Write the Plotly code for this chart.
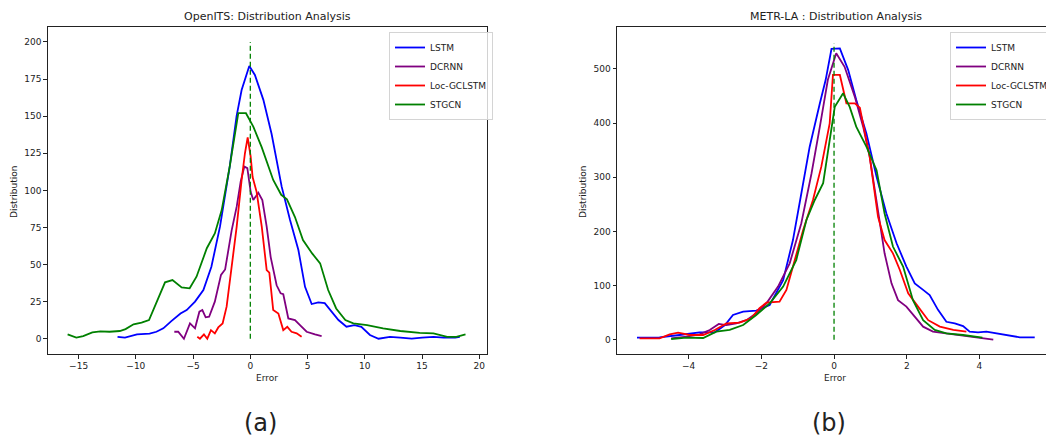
import plotly.graph_objects as go

# ---- (a) OpenITS ----
a_lstm_x = [-11.6, -10.95, -9.9, -8.8, -8.2, -7.6, -6.9, -6.1, -5.56, -4.83, -4.1, -3.4, -2.65, -1.8, -1.2, -0.76,
            -0.09, 0.4, 1.14, 1.86, 2.74, 3.47, 4.2, 4.78, 5.36, 5.94, 6.5, 7.25, 7.7, 8.4, 9.1, 9.7, 10.45, 11.2,
            12.2, 13.1, 14.1, 15.0, 16.0, 16.9, 17.9, 18.3]
a_lstm_y = [1.3, 0.7, 2.9, 3.4, 4.7, 7, 11.9, 17, 19.3, 25, 32.8, 48.5, 75.5, 116, 150, 167.6,
            183.8, 177.8, 161, 138, 102.5, 80, 59.8, 35, 23.4, 24.5, 24, 17, 12.6, 8.1, 9.2, 8, 2.5, 0,
            1.3, 0.7, 0, 0.7, 1.3, 0.7, 0.7, 1.3]
a_dcrnn_x = [-6.64, -6.3, -5.8, -5.27, -4.83, -4.45, -4.19, -3.9, -3.6, -3.1, -2.56, -2.2, -1.63, -1.19, -0.84,
             -0.52, -0.26, 0.03, 0.26, 0.7, 1.05, 1.43, 1.78, 2.3, 2.65, 2.88, 3.32, 3.9, 4.34, 4.92, 5.65, 6.23]
a_dcrnn_y = [4.7, 4.7, 0, 10.3, 7, 18.2, 19.3, 14.4, 14.8, 25, 43, 46.7, 73, 89, 106,
             116, 115, 99, 93.5, 98.4, 93.5, 75.5, 55, 36, 30.6, 30, 13.7, 12.6, 9.2, 4.7, 2.9, 1.8]
a_loc_x = [-4.63, -4.4, -4.05, -3.76, -3.44, -3.1, -2.8, -2.42, -2.07, -1.63, -1.19, -0.76, -0.47, -0.23, 0.03,
           0.2, 0.55, 1.0, 1.43, 1.66, 2.0, 2.45, 2.88, 3.23, 3.6, 4.05, 4.48]
a_loc_y = [1.3, 0, 2.9, 0, 5.8, 3.6, 7.6, 10.3, 21.6, 48.5, 75.5, 107, 125, 135.7, 122.7,
           109, 99, 75.5, 46.3, 44.5, 19.3, 17, 5.8, 8, 4.7, 3.6, 1.3]
a_stgcn_x = [-15.96, -15.2, -14.6, -13.8, -13.1, -12.3, -11.4, -10.9, -10.2, -9.5, -8.85, -8.2, -7.45, -6.8,
             -6.0, -5.3, -4.7, -3.8, -3.1, -2.5, -1.8, -1.05, -0.38, 0.26, 1.0, 2.0, 2.7, 3.2, 3.9, 4.6, 5.4,
             6.1, 6.8, 7.5, 8.3, 9.0, 10.2, 11.6, 13.1, 14.8, 16.0, 17.2, 18.0, 18.8]
a_stgcn_y = [2.9, 0.7, 1.8, 4.3, 5, 4.7, 5.2, 6.5, 9.7, 10.8, 12.6, 25, 38, 39.5,
             34.6, 34, 41.8, 61, 71, 86.7, 116, 152, 152, 143, 129, 107, 97, 94, 82, 66.5, 57.5,
             50.8, 32.8, 20.4, 12.6, 10.3, 9.2, 7, 5.2, 4, 3.6, 1.3, 1.3, 2.9]
a_vline_top = 200

# ---- (b) METR-LA ----
b_lstm_x = [-5.42, -4.8, -4.25, -3.7, -3.28, -3.0, -2.78, -2.5, -2.14, -1.77, -1.4, -1.13, -0.9, -0.67, -0.39,
            -0.23, -0.07, 0.16, 0.39, 0.61, 0.89, 1.17, 1.44, 1.72, 1.99, 2.22, 2.45, 2.63, 2.86, 3.09, 3.32,
            3.55, 3.73, 3.96, 4.19, 4.47, 4.74, 5.11, 5.52]
b_lstm_y = [3.7, 4.3, 8.6, 13.5, 13.5, 27, 45.6, 51.7, 53.6, 64, 110, 184, 270, 356.5, 436.6,
            480, 537, 538, 498, 443, 381, 301, 233, 178, 135, 104, 92, 82.5, 55, 33, 30,
            25, 14.8, 13.5, 14.8, 11.7, 8, 4.3, 4.3]
b_dcrnn_x = [-4.48, -4.06, -3.7, -3.42, -3.17, -2.96, -2.69, -2.41, -2.14, -1.86, -1.54, -1.22, -0.9, -0.62,
             -0.39, -0.17, 0.06, 0.29, 0.57, 0.8, 0.98, 1.17, 1.39, 1.58, 1.76, 1.99, 2.22, 2.45, 2.72, 3.09,
             3.55, 4.0, 4.38]
b_dcrnn_y = [2.5, 5.5, 9.9, 17.9, 29, 27, 30, 36, 48.6, 67, 98, 141, 215, 307,
             393.5, 480, 529, 504, 449, 393.5, 338, 258, 159.5, 104, 73, 61, 42.5, 24, 14.8, 11.7,
             6.8, 3.7, 0]
b_loc_x = [-5.35, -4.8, -4.52, -4.29, -3.97, -3.6, -3.28, -2.96, -2.6, -2.28, -2.05, -1.86, -1.5, -1.31, -1.13,
           -0.85, -0.58, -0.35, -0.12, -0.03, 0.16, 0.34, 0.57, 0.71, 0.98, 1.21, 1.39, 1.62, 1.81, 2.04, 2.31,
           2.59, 2.91, 3.28, 3.64]
b_loc_y = [2.5, 2.5, 9.9, 13, 8.6, 8.6, 17.9, 30, 31.4, 39.4, 58, 68.3, 70, 91.7, 135,
           202.6, 258, 319.6, 399.6, 489, 489, 436.6, 436.6, 428.6, 338, 227, 184, 159.5, 128.7, 85.6, 61,
           36, 24, 17.9, 14.8]
b_stgcn_x = [-4.48, -4.06, -3.6, -3.24, -2.87, -2.5, -2.14, -1.77, -1.4, -1.04, -0.76, -0.53, -0.3, -0.12, 0.02,
             0.25, 0.43, 0.61, 0.89, 1.17, 1.39, 1.62, 1.9, 2.17, 2.45, 2.77, 3.09, 3.55, 4.08]
b_stgcn_y = [1.2, 3.7, 3.1, 14.8, 17.9, 27, 45.6, 67, 98, 147, 221, 258, 289, 369, 430,
             455, 430, 393.5, 356.5, 313, 233, 172, 135, 73, 36, 17.9, 11.7, 8.6, 3.7]
b_vline_top = 547

names = ['LSTM', 'DCRNN', 'Loc-GCLSTM', 'STGCN']
colors = ['#0000ff', '#800080', '#ff0000', '#008000']

FONT = 'DejaVu Sans'
W, H = 1046, 437

fig = go.Figure()

panel_a = [(a_lstm_x, a_lstm_y), (a_dcrnn_x, a_dcrnn_y), (a_loc_x, a_loc_y), (a_stgcn_x, a_stgcn_y)]
panel_b = [(b_lstm_x, b_lstm_y), (b_dcrnn_x, b_dcrnn_y), (b_loc_x, b_loc_y), (b_stgcn_x, b_stgcn_y)]

for (x, y), name, c in zip(panel_a, names, colors):
    fig.add_trace(go.Scatter(x=x, y=y, name=name, mode='lines', line=dict(color=c, width=1.8),
                             xaxis='x', yaxis='y', legend='legend'))
fig.add_trace(go.Scatter(x=[0, 0], y=[0, a_vline_top], mode='lines', showlegend=False,
                         line=dict(color='#008000', width=1.3, dash='5px,3px'), xaxis='x', yaxis='y'))

for (x, y), name, c in zip(panel_b, names, colors):
    fig.add_trace(go.Scatter(x=x, y=y, name=name, mode='lines', line=dict(color=c, width=1.8),
                             xaxis='x2', yaxis='y2', legend='legend2'))
fig.add_trace(go.Scatter(x=[0, 0], y=[0, b_vline_top], mode='lines', showlegend=False,
                         line=dict(color='#008000', width=1.3, dash='5px,3px'), xaxis='x2', yaxis='y2'))

def px(v):
    return v / W

def py(v):
    return 1 - v / H

ax_common = dict(showgrid=False, zeroline=False, showline=True, linecolor='#222', linewidth=1,
                 ticks='outside', ticklen=3.5, tickwidth=0.8, tickcolor='#222',
                 tickfont=dict(family=FONT, size=9, color='#222'))

legend_common = dict(font=dict(family=FONT, size=9, color='#222'), bgcolor='rgba(255,255,255,0.8)',
                     bordercolor='#d4d4d4', borderwidth=1, xanchor='left', yanchor='top',
                     itemwidth=30, tracegroupgap=0)

fig.update_layout(
    width=W, height=H,
    margin=dict(l=0, r=0, t=0, b=0, autoexpand=False),
    paper_bgcolor='white', plot_bgcolor='white',
    font=dict(family=FONT, color='#222'),
    xaxis=dict(domain=[px(47.7), px(486.7)], range=[-17.7, 20.65], tickvals=[-15, -10, -5, 0, 5, 10, 15, 20],
               mirror=True, anchor='y', **ax_common),
    yaxis=dict(domain=[py(354), py(27.3)], range=[-10.3, 209.9], tickvals=[0, 25, 50, 75, 100, 125, 150, 175, 200],
               mirror=True, anchor='x', **ax_common),
    xaxis2=dict(domain=[px(617), 1.0], range=[-5.97, 5.83], tickvals=[-4, -2, 0, 2, 4],
                mirror=True, anchor='y2', **ax_common),
    yaxis2=dict(domain=[py(354), py(27.3)], range=[-26.5, 577], tickvals=[0, 100, 200, 300, 400, 500],
                mirror=False, anchor='x2', **ax_common),
    legend=dict(x=px(389), y=py(32), **legend_common),
    legend2=dict(x=px(950), y=py(32), **legend_common),
    showlegend=True,
)

annots = [
    ('OpenITS: Distribution Analysis', 267, 17, 11, 0),
    ('METR-LA : Distribution Analysis', 836, 17, 11, 0),
    ('Distribution', 14, 192, 9, -90),
    ('Distribution', 583, 192, 9, -90),
    ('Error', 267, 378, 9, 0),
    ('Error', 835, 378, 9, 0),
    ('(a)', 260, 423, 24, 0),
    ('(b)', 829, 423, 24, 0),
]
for text, x, y, size, ang in annots:
    fig.add_annotation(text=text, x=px(x), y=py(y), xref='paper', yref='paper', showarrow=False,
                       xanchor='center', yanchor='middle', textangle=ang,
                       font=dict(family=FONT, size=size, color='#222'))

# the page body has a default 8px margin; drop it so the figure sits at the window's corner
fig.write_html("out.html", config={'displayModeBar': False},
               post_script="document.body.style.margin='0';document.body.style.overflow='hidden';")
